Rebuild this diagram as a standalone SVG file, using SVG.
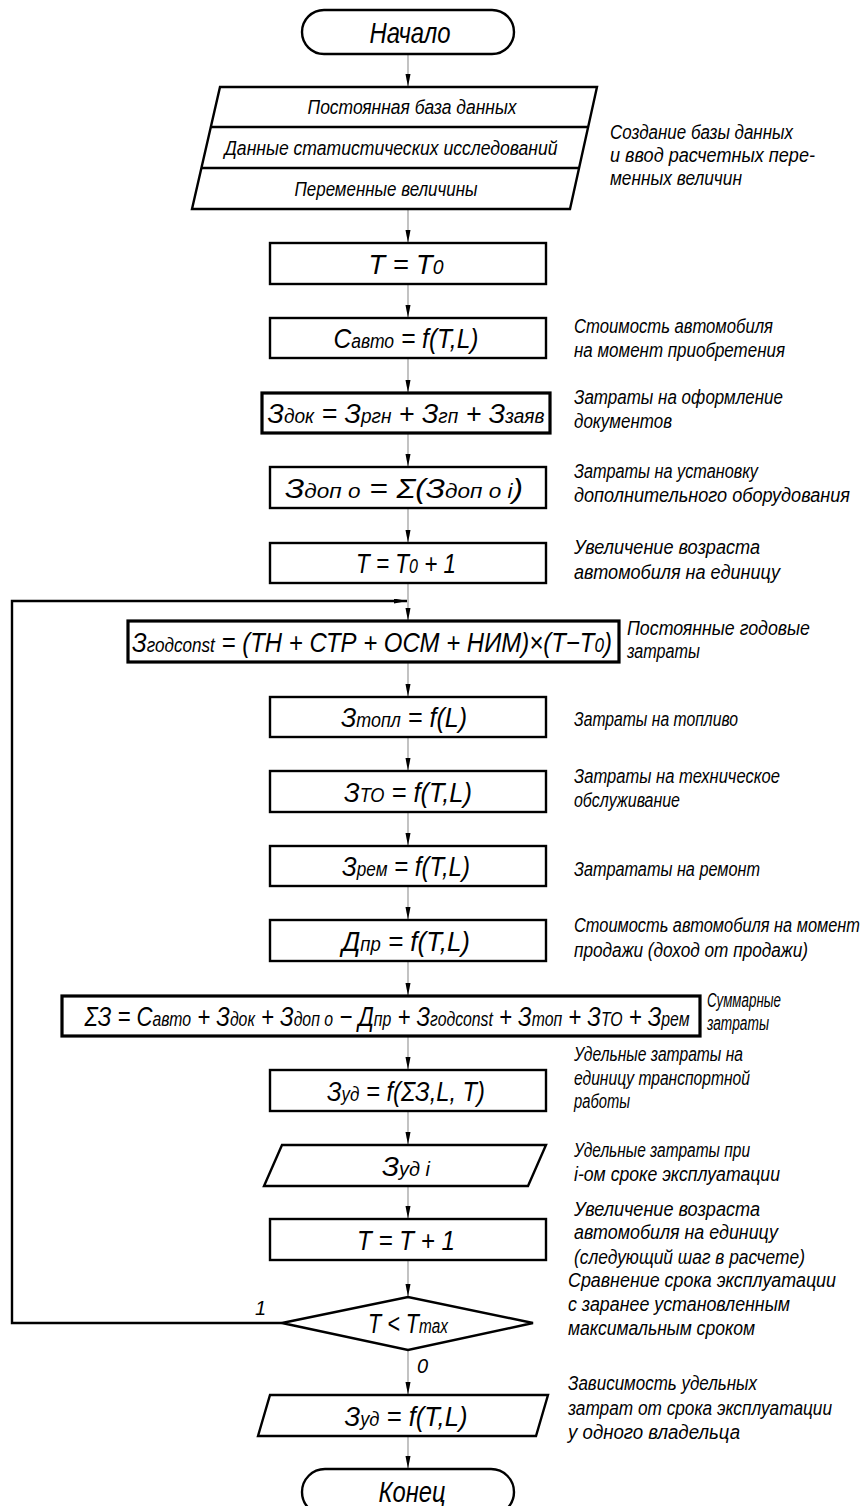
<svg xmlns="http://www.w3.org/2000/svg" width="865" height="1506" viewBox="0 0 865 1506">
  <defs>
    <marker id="ah" markerUnits="userSpaceOnUse" markerWidth="14" markerHeight="6" refX="13" refY="2.5" orient="auto">
      <path d="M0,0 L13,2.5 L0,5 Z" fill="#000"/>
    </marker>
    <style>
      .box { fill: #fff; stroke: #000; stroke-width: 2.4; }
      .bold { stroke-width: 3.2; }
      .conn { fill: none; stroke: #9a9a9a; stroke-width: 1.2; }
      .loop { fill: none; stroke: #000; stroke-width: 2.4; }
      .f { font-family: "Liberation Sans", Arial, sans-serif; font-style: italic; font-size: 28px; text-anchor: middle; fill: #000; }
      .big { font-size: 30px; }
      .s { font-size: 20px; }
      .row { font-family: "Liberation Sans", Arial, sans-serif; font-style: italic; font-size: 20px; text-anchor: middle; fill: #000; }
      .a { font-family: "Liberation Sans", Arial, sans-serif; font-style: italic; font-size: 20px; fill: #000; }
    </style>
  </defs>

  <!-- connectors -->
  <g id="connectors">
    <line class="conn" x1="408" y1="54" x2="408" y2="87" marker-end="url(#ah)"/>
    <line class="conn" x1="408" y1="209" x2="408" y2="243" marker-end="url(#ah)"/>
    <line class="conn" x1="408" y1="284" x2="408" y2="318" marker-end="url(#ah)"/>
    <line class="conn" x1="408" y1="358" x2="408" y2="393" marker-end="url(#ah)"/>
    <line class="conn" x1="408" y1="433" x2="408" y2="467" marker-end="url(#ah)"/>
    <line class="conn" x1="408" y1="508" x2="408" y2="543" marker-end="url(#ah)"/>
    <line class="conn" x1="408" y1="583" x2="408" y2="621" marker-end="url(#ah)"/>
    <line class="conn" x1="408" y1="662" x2="408" y2="697" marker-end="url(#ah)"/>
    <line class="conn" x1="408" y1="737" x2="408" y2="771" marker-end="url(#ah)"/>
    <line class="conn" x1="408" y1="812" x2="408" y2="846" marker-end="url(#ah)"/>
    <line class="conn" x1="408" y1="886" x2="408" y2="920" marker-end="url(#ah)"/>
    <line class="conn" x1="408" y1="961" x2="408" y2="996" marker-end="url(#ah)"/>
    <line class="conn" x1="408" y1="1036" x2="408" y2="1070" marker-end="url(#ah)"/>
    <line class="conn" x1="408" y1="1111" x2="408" y2="1145" marker-end="url(#ah)"/>
    <line class="conn" x1="408" y1="1186" x2="408" y2="1219" marker-end="url(#ah)"/>
    <line class="conn" x1="408" y1="1260" x2="408" y2="1297" marker-end="url(#ah)"/>
    <line class="conn" x1="408" y1="1350" x2="408" y2="1395" marker-end="url(#ah)"/>
    <line class="conn" x1="408" y1="1436" x2="408" y2="1469" marker-end="url(#ah)"/>
    <!-- return branch of the loop -->
    <polyline class="loop" points="282,1323 12,1323 12,601 407,601" marker-end="url(#ah)"/>
    <text class="a" x="255" y="1315">1</text>
    <text class="a" x="417" y="1373">0</text>
  </g>

  <g id="start">
    <rect class="box" x="302" y="10" width="212" height="44" rx="22" ry="22"/>
    <text class="f big" x="410" y="43" textLength="81" lengthAdjust="spacingAndGlyphs">Начало</text>
  </g>

  <g id="input-data">
    <polygon class="box" points="220,87 597,87 570,209 192,209"/>
    <line class="box" x1="211" y1="127" x2="588" y2="127"/>
    <line class="box" x1="202" y1="168" x2="579" y2="168"/>
    <text class="row" x="412" y="114" textLength="209" lengthAdjust="spacingAndGlyphs">Постоянная база данных</text>
    <text class="row" x="391" y="155" textLength="333" lengthAdjust="spacingAndGlyphs">Данные статистических исследований</text>
    <text class="row" x="386" y="196" textLength="183" lengthAdjust="spacingAndGlyphs">Переменные величины</text>
    <text class="a" x="610" y="139" textLength="183" lengthAdjust="spacingAndGlyphs">Создание базы данных</text>
    <text class="a" x="610" y="162" textLength="205" lengthAdjust="spacingAndGlyphs">и ввод расчетных пере-</text>
    <text class="a" x="610" y="185" textLength="132" lengthAdjust="spacingAndGlyphs">менных величин</text>
  </g>

  <g id="t-init">
    <rect class="box" x="270" y="243" width="276" height="41"/>
    <text class="f" x="406" y="274" textLength="75" lengthAdjust="spacingAndGlyphs">T = T<tspan class="s">0</tspan></text>
  </g>

  <g id="car-cost">
    <rect class="box" x="270" y="318" width="276" height="40"/>
    <text class="f" x="406" y="348" textLength="145" lengthAdjust="spacingAndGlyphs">С<tspan class="s">авто</tspan> = f(T,L)</text>
    <text class="a" x="574" y="333" textLength="199" lengthAdjust="spacingAndGlyphs">Стоимость автомобиля</text>
    <text class="a" x="574" y="357" textLength="211" lengthAdjust="spacingAndGlyphs">на момент приобретения</text>
  </g>

  <g id="doc-cost">
    <rect class="box bold" x="262" y="393" width="288" height="40"/>
    <text class="f" x="406" y="423" textLength="277" lengthAdjust="spacingAndGlyphs">З<tspan class="s">док</tspan> = З<tspan class="s">ргн</tspan> + З<tspan class="s">гп</tspan> + З<tspan class="s">заяв</tspan></text>
    <text class="a" x="574" y="404" textLength="209" lengthAdjust="spacingAndGlyphs">Затраты на оформление</text>
    <text class="a" x="574" y="428" textLength="98" lengthAdjust="spacingAndGlyphs">документов</text>
  </g>

  <g id="equip-cost">
    <rect class="box" x="270" y="467" width="276" height="41"/>
    <text class="f" x="404" y="498" textLength="238" lengthAdjust="spacingAndGlyphs">З<tspan class="s">доп о</tspan> = Σ(З<tspan class="s">доп о i</tspan>)</text>
    <text class="a" x="574" y="478" textLength="184" lengthAdjust="spacingAndGlyphs">Затраты на установку</text>
    <text class="a" x="574" y="502" textLength="276" lengthAdjust="spacingAndGlyphs">дополнительного оборудования</text>
  </g>

  <g id="t-step0">
    <rect class="box" x="270" y="543" width="276" height="40"/>
    <text class="f" x="406" y="573" textLength="100" lengthAdjust="spacingAndGlyphs">T = T<tspan class="s">0</tspan> + 1</text>
    <text class="a" x="574" y="554" textLength="186" lengthAdjust="spacingAndGlyphs">Увеличение возраста</text>
    <text class="a" x="574" y="579" textLength="206" lengthAdjust="spacingAndGlyphs">автомобиля на единицу</text>
  </g>

  <g id="annual-cost">
    <rect class="box bold" x="128" y="621" width="491" height="41"/>
    <text class="f" x="372" y="652" textLength="480" lengthAdjust="spacingAndGlyphs">З<tspan class="s">годconst</tspan> = (ТН + СТР + ОСМ + НИМ)×(Т−Т<tspan class="s">0</tspan>)</text>
    <text class="a" x="627" y="635" textLength="183" lengthAdjust="spacingAndGlyphs">Постоянные годовые</text>
    <text class="a" x="627" y="658" textLength="73" lengthAdjust="spacingAndGlyphs">затраты</text>
  </g>

  <g id="fuel-cost">
    <rect class="box" x="270" y="697" width="276" height="40"/>
    <text class="f" x="404" y="727" textLength="126" lengthAdjust="spacingAndGlyphs">З<tspan class="s">топл</tspan> = f(L)</text>
    <text class="a" x="574" y="726" textLength="164" lengthAdjust="spacingAndGlyphs">Затраты на топливо</text>
  </g>

  <g id="service-cost">
    <rect class="box" x="270" y="771" width="276" height="41"/>
    <text class="f" x="408" y="802" textLength="128" lengthAdjust="spacingAndGlyphs">З<tspan class="s">ТО</tspan> = f(T,L)</text>
    <text class="a" x="574" y="783" textLength="206" lengthAdjust="spacingAndGlyphs">Затраты на техническое</text>
    <text class="a" x="574" y="807" textLength="106" lengthAdjust="spacingAndGlyphs">обслуживание</text>
  </g>

  <g id="repair-cost">
    <rect class="box" x="270" y="846" width="276" height="40"/>
    <text class="f" x="406" y="876" textLength="128" lengthAdjust="spacingAndGlyphs">З<tspan class="s">рем</tspan> = f(T,L)</text>
    <text class="a" x="574" y="876" textLength="186" lengthAdjust="spacingAndGlyphs">Затрататы на ремонт</text>
  </g>

  <g id="sale-income">
    <rect class="box" x="270" y="920" width="276" height="41"/>
    <text class="f" x="406" y="951" textLength="128" lengthAdjust="spacingAndGlyphs">Д<tspan class="s">пр</tspan> = f(T,L)</text>
    <text class="a" x="574" y="932" textLength="286" lengthAdjust="spacingAndGlyphs">Стоимость автомобиля на момент</text>
    <text class="a" x="574" y="957" textLength="234" lengthAdjust="spacingAndGlyphs">продажи (доход от продажи)</text>
  </g>

  <g id="total-cost">
    <rect class="box bold" x="62" y="996" width="638" height="40"/>
    <text class="f" x="387" y="1026" textLength="605" lengthAdjust="spacingAndGlyphs">ΣЗ = С<tspan class="s">авто</tspan> + З<tspan class="s">док</tspan> + З<tspan class="s">доп о</tspan> − Д<tspan class="s">пр</tspan> + З<tspan class="s">годconst</tspan> + З<tspan class="s">топ</tspan> + З<tspan class="s">ТО</tspan> + З<tspan class="s">рем</tspan></text>
    <text class="a" x="707" y="1007" textLength="74" lengthAdjust="spacingAndGlyphs">Суммарные</text>
    <text class="a" x="707" y="1030" textLength="62" lengthAdjust="spacingAndGlyphs">затраты</text>
  </g>

  <g id="unit-cost">
    <rect class="box" x="270" y="1070" width="276" height="41"/>
    <text class="f" x="406" y="1101" textLength="158" lengthAdjust="spacingAndGlyphs">З<tspan class="s">уд</tspan> = f(ΣЗ,L, T)</text>
    <text class="a" x="574" y="1061" textLength="169" lengthAdjust="spacingAndGlyphs">Удельные затраты на</text>
    <text class="a" x="574" y="1085" textLength="176" lengthAdjust="spacingAndGlyphs">единицу транспортной</text>
    <text class="a" x="574" y="1108" textLength="56" lengthAdjust="spacingAndGlyphs">работы</text>
  </g>

  <g id="unit-cost-i">
    <polygon class="box" points="282,1145 546,1145 528,1186 264,1186"/>
    <text class="f" x="406" y="1176" textLength="48" lengthAdjust="spacingAndGlyphs">З<tspan class="s">уд i</tspan></text>
    <text class="a" x="574" y="1157" textLength="176" lengthAdjust="spacingAndGlyphs">Удельные затраты при</text>
    <text class="a" x="574" y="1181" textLength="206" lengthAdjust="spacingAndGlyphs">i-ом сроке эксплуатации</text>
  </g>

  <g id="t-step">
    <rect class="box" x="270" y="1219" width="276" height="41"/>
    <text class="f" x="406" y="1250" textLength="98" lengthAdjust="spacingAndGlyphs">T = T + 1</text>
    <text class="a" x="574" y="1216" textLength="186" lengthAdjust="spacingAndGlyphs">Увеличение возраста</text>
    <text class="a" x="574" y="1239" textLength="204" lengthAdjust="spacingAndGlyphs">автомобиля на единицу</text>
    <text class="a" x="574" y="1264" textLength="231" lengthAdjust="spacingAndGlyphs">(следующий шаг в расчете)</text>
  </g>

  <g id="check-age">
    <polygon class="box" points="282,1323 408,1297 533,1323 408,1350"/>
    <text class="f" x="408" y="1333" textLength="80" lengthAdjust="spacingAndGlyphs">T &lt; T<tspan class="s">max</tspan></text>
    <text class="a" x="568" y="1287" textLength="268" lengthAdjust="spacingAndGlyphs">Сравнение срока эксплуатации</text>
    <text class="a" x="568" y="1311" textLength="222" lengthAdjust="spacingAndGlyphs">с заранее установленным</text>
    <text class="a" x="568" y="1335" textLength="187" lengthAdjust="spacingAndGlyphs">максимальным сроком</text>
  </g>

  <g id="result">
    <polygon class="box" points="270,1395 548,1395 536,1436 258,1436"/>
    <text class="f" x="406" y="1426" textLength="123" lengthAdjust="spacingAndGlyphs">З<tspan class="s">уд</tspan> = f(T,L)</text>
    <text class="a" x="568" y="1390" textLength="189" lengthAdjust="spacingAndGlyphs">Зависимость удельных</text>
    <text class="a" x="568" y="1415" textLength="264" lengthAdjust="spacingAndGlyphs">затрат от срока эксплуатации</text>
    <text class="a" x="568" y="1439" textLength="172" lengthAdjust="spacingAndGlyphs">у одного владельца</text>
  </g>

  <g id="end">
    <rect class="box" x="302" y="1469" width="212" height="46" rx="23" ry="23"/>
    <text class="f big" x="412" y="1502" textLength="67" lengthAdjust="spacingAndGlyphs">Конец</text>
  </g>
</svg>
